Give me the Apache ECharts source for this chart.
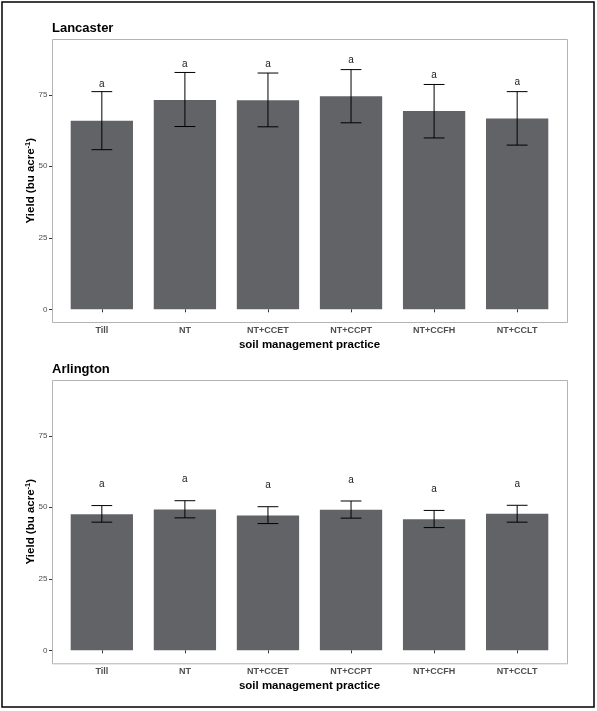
<!DOCTYPE html>
<html>
<head>
<meta charset="utf-8">
<script src="https://cdn.jsdelivr.net/npm/echarts@6/dist/echarts.min.js"></script>
<style>
html,body{margin:0;padding:0;background:#fff;}
#chart{width:597px;height:711px;}
</style>
</head>
<body>
<div id="chart"></div>
<script>
const categories = ['Till', 'NT', 'NT+CCET', 'NT+CCPT', 'NT+CCFH', 'NT+CCLT'];
const yTicks = [0, 25, 50, 75];
const panelTitles = ['Lancaster', 'Arlington'];

const lancasterMean = [65.9, 73.2, 73.1, 74.5, 69.3, 66.7];
const lancasterLow = [55.8, 63.9, 63.8, 65.2, 59.9, 57.4];
const lancasterHigh = [76.1, 82.8, 82.6, 83.8, 78.6, 76.1];
const lancasterLetters = ['a', 'a', 'a', 'a', 'a', 'a'];
const lancasterLetterY = [78.9, 86.0, 86.0, 87.3, 82.1, 79.6];

const arlingtonMean = [47.6, 49.2, 47.1, 49.1, 45.8, 47.7];
const arlingtonLow = [44.8, 46.3, 44.3, 46.2, 42.9, 44.8];
const arlingtonHigh = [50.6, 52.3, 50.2, 52.2, 48.9, 50.7];
const arlingtonLetters = ['a', 'a', 'a', 'a', 'a', 'a'];
const arlingtonLetterY = [58.2, 60.0, 57.9, 59.9, 56.5, 58.2];

const FONT = "'Liberation Sans', Arial, Helvetica, sans-serif";
const BAR_COLOR = '#626367';
const PANEL = [
  {boxTop: 39, boxBottom: 322, zeroY: 309.3},
  {boxTop: 380, boxBottom: 663.3, zeroY: 650.3}
];
const BOX_LEFT = 52, BOX_RIGHT = 567;
const band = (BOX_RIGHT - BOX_LEFT) / 6.2;
const gridLeft = BOX_LEFT + 0.1 * band;
const gridWidth = 6 * band;
const YMAX = 94.5;

const chart = echarts.init(document.getElementById('chart'), null, {renderer: 'canvas'});

const grids = [], xAxes = [], yAxes = [], series = [], graphics = [];

const panelData = [
  {mean: lancasterMean, low: lancasterLow, high: lancasterHigh, letters: lancasterLetters, letterY: lancasterLetterY},
  {mean: arlingtonMean, low: arlingtonLow, high: arlingtonHigh, letters: arlingtonLetters, letterY: arlingtonLetterY}
];

PANEL.forEach((p, k) => {
  grids.push({left: gridLeft, width: gridWidth, top: p.boxTop, height: p.zeroY - p.boxTop, containLabel: false});
  xAxes.push({
    type: 'category', gridIndex: k, data: categories,
    offset: p.boxBottom - p.zeroY,
    axisLine: {show: false},
    axisTick: {show: true, alignWithLabel: true, length: 3, lineStyle: {color: '#333', width: 1}},
    axisLabel: {margin: 4, fontFamily: FONT, fontSize: 9, fontWeight: 'bold', color: '#4d4d4d'},
    name: 'soil management practice', nameLocation: 'middle', nameGap: 17,
    nameTextStyle: {fontFamily: FONT, fontSize: 11.5, fontWeight: 'bold', color: '#000', verticalAlign: 'top'},
    splitLine: {show: false}
  });
  yAxes.push({
    type: 'value', gridIndex: k, min: 0, max: YMAX,
    offset: gridLeft - BOX_LEFT,
    axisLine: {show: false},
    axisTick: {show: true, length: 3, customValues: yTicks, lineStyle: {color: '#333', width: 1}},
    axisLabel: {margin: 4.5, customValues: yTicks, fontFamily: FONT, fontSize: 8, color: '#4d4d4d'},
    splitLine: {show: false},
    name: 'Yield (bu acre{sup|-1})', nameLocation: 'middle', nameGap: 14, nameRotate: 90,
    nameMoveOverlap: false,
    nameTextStyle: {
      fontFamily: FONT, fontSize: 11.5, fontWeight: 'bold', color: '#000',
      padding: [0, 13, 0, 0],
      rich: {sup: {fontFamily: FONT, fontSize: 7.5, fontWeight: 'bold', color: '#000', verticalAlign: 'top', lineHeight: 14}}
    }
  });
  const d = panelData[k];
  series.push({
    type: 'bar', xAxisIndex: k, yAxisIndex: k, data: d.mean, z: 2,
    barWidth: 0.75 * band, itemStyle: {color: BAR_COLOR}, silent: true, animation: false
  });
  series.push({
    type: 'custom', xAxisIndex: k, yAxisIndex: k, animation: false, silent: true, z: 5,
    data: categories.map((c, i) => [i, d.low[i], d.high[i]]),
    renderItem: function (params, api) {
      const lo = api.coord([api.value(0), api.value(1)]);
      const hi = api.coord([api.value(0), api.value(2)]);
      const half = api.size([1, 0])[0] * 0.125;
      const st = {stroke: '#000', lineWidth: 1};
      return {type: 'group', children: [
        {type: 'line', shape: {x1: hi[0], y1: hi[1], x2: lo[0], y2: lo[1]}, style: st},
        {type: 'line', shape: {x1: hi[0] - half, y1: hi[1], x2: hi[0] + half, y2: hi[1]}, style: st},
        {type: 'line', shape: {x1: lo[0] - half, y1: lo[1], x2: lo[0] + half, y2: lo[1]}, style: st}
      ]};
    }
  });
  series.push({
    type: 'custom', xAxisIndex: k, yAxisIndex: k, animation: false, silent: true, z: 5,
    data: categories.map((c, i) => [i, d.letterY[i], d.letters[i]]),
    renderItem: function (params, api) {
      const pt = api.coord([api.value(0), api.value(1)]);
      return {type: 'text', x: pt[0], y: pt[1] + 0.8, style: {
        text: d.letters[params.dataIndex], fill: '#1a1a1a', font: '10px ' + FONT,
        align: 'center', verticalAlign: 'middle'
      }};
    }
  });
  graphics.push({
    type: 'rect', silent: true, z: 10,
    shape: {x: BOX_LEFT + 0.5, y: p.boxTop + 0.5, width: BOX_RIGHT - BOX_LEFT, height: p.boxBottom - p.boxTop},
    style: {fill: null, stroke: '#b3b3b3', lineWidth: 1}
  });
  graphics.push({
    type: 'text', silent: true,
    x: BOX_LEFT, y: p.boxTop - 11,
    style: {text: panelTitles[k], font: 'bold 13px ' + FONT, fill: '#000', align: 'left', verticalAlign: 'middle'}
  });
});

graphics.push({
  type: 'rect', silent: true, z: 10,
  shape: {x: 2, y: 2, width: 592, height: 705},
  style: {fill: null, stroke: '#000', lineWidth: 1.5}
});

chart.setOption({
  backgroundColor: '#fff',
  animation: false,
  grid: grids,
  xAxis: xAxes,
  yAxis: yAxes,
  series: series,
  graphic: graphics
});
</script>
</body>
</html>
